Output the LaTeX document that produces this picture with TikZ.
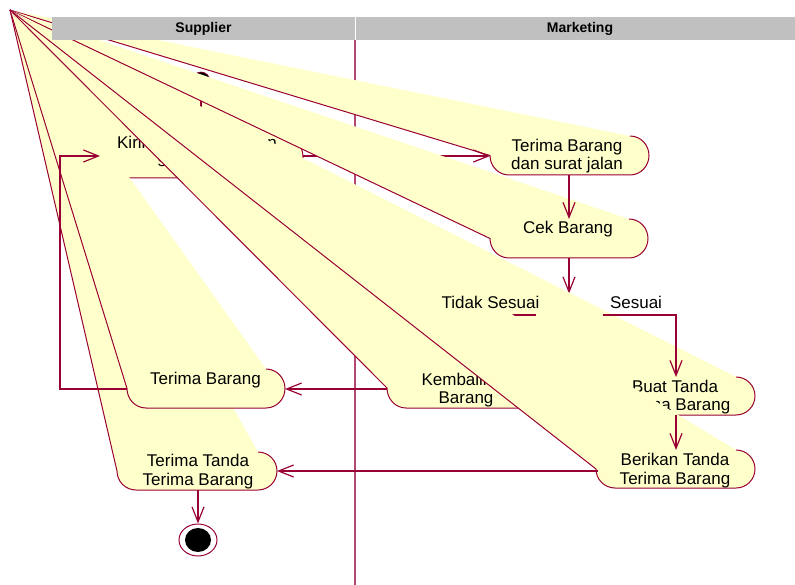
\documentclass[tikz,border=0pt]{standalone}
\usepackage{fontspec}
\setmainfont{Liberation Sans}
\usetikzlibrary{arrows.meta,shapes.geometric}
\definecolor{roseline}{RGB}{153,0,51}
\definecolor{rosefill}{RGB}{255,255,204}
\definecolor{hdrgray}{RGB}{192,192,192}
\definecolor{lanecol}{RGB}{180,70,115}
\tikzset{
  actline/.style={draw=roseline, line width=1pt, line join=round},
  acttext/.style={font=\fontsize{17}{18.5}\selectfont, align=center, inner sep=0pt, text=black},
  flow/.style={draw=roseline, line width=1.2pt, -{Straight Barb[length=15pt,width=12pt]}},
  lbl/.style={font=\fontsize{17}{18.5}\selectfont, inner sep=0pt, text=black},
  hdrtext/.style={font=\bfseries\fontsize{14}{16}\selectfont, inner sep=0pt, text=black},
  startst/.style={circle, fill=black, draw=roseline, line width=0.6pt, minimum size=18pt, inner sep=0pt},
  decst/.style={diamond, fill=rosefill, draw=roseline, line width=1pt, minimum width=66pt, minimum height=42pt, inner sep=0pt, aspect=1.57},
  endouter/.style={ellipse, fill=white, draw=roseline, line width=1pt, minimum width=38pt, minimum height=32pt, inner sep=0pt},
  endinner/.style={ellipse, fill=black, minimum width=26pt, minimum height=24pt, inner sep=0pt}
}
% #1 name, #2 xl, #3 xr, #4 yt, #5 yb, #6 text position, #7 text
\newcommand\glact[7]{%
  \pgfmathsetmacro\gYm{(#4+#5)/2}%
  \pgfmathsetmacro\gRy{(#5-#4)/2}%
  \pgfmathsetmacro\gXa{#3-19}%
  \pgfmathsetmacro\gXb{#3-19+10.5}%
  \pgfmathsetmacro\gYc{\gYm-0.5523*\gRy}%
  \pgfmathsetmacro\gYd{\gYm+0.5523*\gRy}%
  \pgfmathsetmacro\gXe{#2+19}%
  \pgfmathsetmacro\gXf{#2+19-10.5}%
  \fill[rosefill] (apex) -- (\gXa,#4) .. controls (\gXb,#4) and (#3,\gYc) .. (#3,\gYm)
     .. controls (#3,\gYd) and (\gXb,#5) .. (\gXa,#5) -- (\gXe,#5)
     .. controls (\gXf,#5) and (#2,\gYd) .. (#2,\gYm) -- cycle;
  \draw[actline] (\gXa,#4) .. controls (\gXb,#4) and (#3,\gYc) .. (#3,\gYm)
     .. controls (#3,\gYd) and (\gXb,#5) .. (\gXa,#5) -- (\gXe,#5)
     .. controls (\gXf,#5) and (#2,\gYd) .. (#2,\gYm) -- (apex);
  \node[acttext] (#1) at (#6) {#7};
}
\begin{document}
\begin{tikzpicture}[x=1pt,y=-1pt]
\useasboundingbox (0,0) rectangle (795,585);
\fill[white] (0,0) rectangle (795,585);
\coordinate (apex) at (10,10);
% connector end points
\coordinate (A1t) at (201,136);
\coordinate (A1r) at (303,156);
\coordinate (A1l) at (100,156);
\coordinate (A2l) at (490,156);
\coordinate (A2b) at (569,175);
\coordinate (A3t) at (569,219);
\coordinate (A3b) at (569,258);
\coordinate (A4t) at (467,368);
\coordinate (A4l) at (387,389);
\coordinate (A7r) at (285,389);
\coordinate (A7l) at (127,389);
\coordinate (L1) at (60,389);
\coordinate (A5t) at (676,377);
\coordinate (A5b) at (676,415);
\coordinate (A6t) at (676,450);
\coordinate (A6l) at (598,471);
\coordinate (A8r) at (277,471);
\coordinate (A8b) at (198,490);
\coordinate (laneT) at (355,40);
\coordinate (laneB) at (355,585);
% lane divider
\draw[lanecol, line width=1.1pt] (laneT) -- (laneB);
% activities, in drawing order
\glact{kirim}{100}{303}{136}{178}{197,153}{Kirim Barang dengan\\surat jalan}
\node[startst] (start) at (201,81) {};
\draw[flow] (start.south) -- (A1t);
\glact{terimasj}{490}{649}{136}{175}{567,156}{Terima Barang\\dan surat jalan}
\draw[flow] (A1r) -- (A2l);
\glact{cek}{490}{648}{219}{258}{568,229}{Cek Barang}
\draw[flow] (A2b) -- (A3t);
\node[decst] (dec) at (569,315) {};
\draw[flow] (A3b) -- (dec.north);
\glact{kembali}{387}{549}{368}{408}{466,390}{Kembalikan\\Barang}
\glact{terimatanda}{117}{277}{452}{490}{198,471.5}{Terima Tanda\\Terima Barang}
\glact{terimabrg}{127}{285}{369}{408}{205.5,380}{Terima Barang}
\draw[flow] (A4l) -- (A7r);
\draw[flow] (A7l) -- (L1) |- (A1l);
\glact{buat}{597}{755}{377}{415}{675,397}{Buat Tanda\\Terima Barang}
\draw[flow] (dec.east) -| (A5t);
\draw[flow] (dec.west) -| (A4t);
\glact{berikan}{596}{755}{450}{488}{675,470.5}{Berikan Tanda\\Terima Barang}
\draw[flow] (A5b) -- (A6t);
\draw[flow] (A6l) -- (A8r);
\node[endouter] (endo) at (198,540) {};
\node[endinner] (endi) at (198,540) {};
\draw[flow] (A8b) -- (endo.north);
% guard labels
\node[lbl] (tidak) at (490.5,302) {Tidak Sesuai};
\node[lbl] (sesuai) at (636,302) {Sesuai};
% swimlane headers
\fill[hdrgray] (52,17) rectangle (795,40);
\draw[white, line width=0.8pt] (355,17) -- (355,40);
\node[hdrtext] (hsup) at (203.5,28.5) {Supplier};
\node[hdrtext] (hmkt) at (580,28.5) {Marketing};
\end{tikzpicture}
\end{document}
